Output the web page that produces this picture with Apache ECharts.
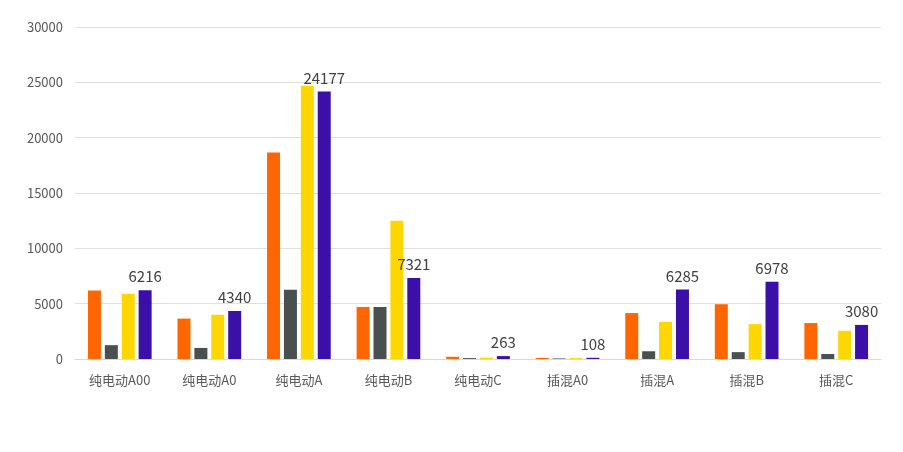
<!DOCTYPE html>
<html><head><meta charset="utf-8">
<script src="https://cdn.jsdelivr.net/npm/echarts@6/dist/echarts.min.js"></script>
<style>html,body{margin:0;padding:0;background:#fff}#c{width:903px;height:452px}</style>
</head><body><div id="c"></div>
<script>
const categories=['纯电动A00','纯电动A0','纯电动A','纯电动B','纯电动C','插混A0','插混A','插混B','插混C'];
const s1=[6200,3650,18650,4700,200,100,4150,4950,3250];
const s2=[1250,1000,6250,4700,80,50,700,620,450];
const s3=[5900,4000,24700,12500,120,80,3350,3150,2550];
const s4=[6216,4340,24177,7321,263,108,6285,6978,3080];
const colors=['#FF6600','#4A5050','#FFD700','#3B10A8'];
const chart=echarts.init(document.getElementById('c'));
const mk=(d,i,lab)=>({type:'bar',data:d,barWidth:13,barGap:'30%',itemStyle:{color:colors[i]},
 label:{show:lab,position:'top',color:'#404040',fontSize:15,distance:6,fontFamily:'Noto Sans CJK SC'}});
chart.setOption({
 animation:false,
 grid:{left:75,right:22,top:27,bottom:93},
 xAxis:{type:'category',data:categories,axisTick:{show:false},axisLine:{lineStyle:{color:'#d9d9d9'}},
  axisLabel:{color:'#595959',fontSize:13,fontFamily:'Noto Sans CJK SC',margin:15}},
 yAxis:{type:'value',min:0,max:30000,interval:5000,axisLine:{show:false},axisTick:{show:false},
  splitLine:{lineStyle:{color:'#e0e0e0'}},axisLabel:{formatter:v=>String(v),color:'#595959',fontSize:13,fontFamily:'Noto Sans CJK SC',margin:12}},
 series:[mk(s1,0,false),mk(s2,1,false),mk(s3,2,false),mk(s4,3,true)]
});
</script></body></html>
